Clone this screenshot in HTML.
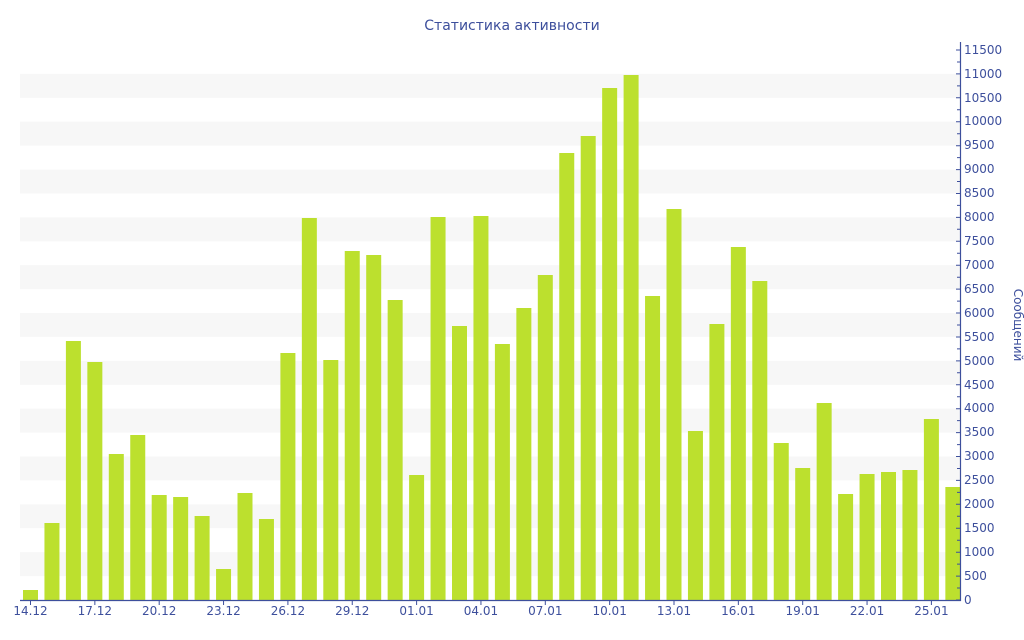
<!DOCTYPE html>
<html><head><meta charset="utf-8"><style>
html,body{margin:0;padding:0;background:#fff;}
svg{display:block;font-family:"DejaVu Sans",Verdana,sans-serif;}
</style></head><body>
<svg width="1024" height="640" viewBox="0 0 1024 640" xmlns="http://www.w3.org/2000/svg">
<rect width="1024" height="640" fill="#fff"/>
<g fill="#f7f7f7">
<rect x="20" y="552.2" width="940" height="23.9"/>
<rect x="20" y="504.3" width="940" height="23.9"/>
<rect x="20" y="456.5" width="940" height="23.9"/>
<rect x="20" y="408.7" width="940" height="23.9"/>
<rect x="20" y="360.9" width="940" height="23.9"/>
<rect x="20" y="313.0" width="940" height="23.9"/>
<rect x="20" y="265.2" width="940" height="23.9"/>
<rect x="20" y="217.4" width="940" height="23.9"/>
<rect x="20" y="169.6" width="940" height="23.9"/>
<rect x="20" y="121.7" width="940" height="23.9"/>
<rect x="20" y="73.9" width="940" height="23.9"/>
</g>
<g fill="#bce02e">
<rect x="23" y="590" width="15" height="10"/>
<rect x="44.45" y="523" width="15" height="77"/>
<rect x="65.9" y="341" width="15" height="259"/>
<rect x="87.35" y="362" width="15" height="238"/>
<rect x="108.8" y="454" width="15" height="146"/>
<rect x="130.25" y="435" width="15" height="165"/>
<rect x="151.7" y="495" width="15" height="105"/>
<rect x="173.15" y="497" width="15" height="103"/>
<rect x="194.6" y="516" width="15" height="84"/>
<rect x="216.05" y="569" width="15" height="31"/>
<rect x="237.5" y="493" width="15" height="107"/>
<rect x="258.95" y="519" width="15" height="81"/>
<rect x="280.4" y="353" width="15" height="247"/>
<rect x="301.85" y="218" width="15" height="382"/>
<rect x="323.3" y="360" width="15" height="240"/>
<rect x="344.75" y="251" width="15" height="349"/>
<rect x="366.2" y="255" width="15" height="345"/>
<rect x="387.65" y="300" width="15" height="300"/>
<rect x="409.1" y="475" width="15" height="125"/>
<rect x="430.55" y="217" width="15" height="383"/>
<rect x="452" y="326" width="15" height="274"/>
<rect x="473.45" y="216" width="15" height="384"/>
<rect x="494.9" y="344" width="15" height="256"/>
<rect x="516.35" y="308" width="15" height="292"/>
<rect x="537.8" y="275" width="15" height="325"/>
<rect x="559.25" y="153" width="15" height="447"/>
<rect x="580.7" y="136" width="15" height="464"/>
<rect x="602.15" y="88" width="15" height="512"/>
<rect x="623.6" y="75" width="15" height="525"/>
<rect x="645.05" y="296" width="15" height="304"/>
<rect x="666.5" y="209" width="15" height="391"/>
<rect x="687.95" y="431" width="15" height="169"/>
<rect x="709.4" y="324" width="15" height="276"/>
<rect x="730.85" y="247" width="15" height="353"/>
<rect x="752.3" y="281" width="15" height="319"/>
<rect x="773.75" y="443" width="15" height="157"/>
<rect x="795.2" y="468" width="15" height="132"/>
<rect x="816.65" y="403" width="15" height="197"/>
<rect x="838.1" y="494" width="15" height="106"/>
<rect x="859.55" y="474" width="15" height="126"/>
<rect x="881" y="472" width="15" height="128"/>
<rect x="902.45" y="470" width="15" height="130"/>
<rect x="923.9" y="419" width="15" height="181"/>
<rect x="945.35" y="487" width="15" height="113"/>
</g>
<g stroke="#3d4f9c" stroke-width="1.2">
<line x1="20" y1="600.5" x2="961" y2="600.5"/>
<line x1="960.5" y1="42" x2="960.5" y2="601"/>
</g>
<g stroke="#3d4f9c" stroke-width="1">
<path d="M30.5 600v5M94.85 600v5M159.2 600v5M223.55 600v5M287.9 600v5M352.25 600v5M416.6 600v5M480.95 600v5M545.3 600v5M609.65 600v5M674 600v5M738.35 600v5M802.7 600v5M867.05 600v5M931.4 600v5"/>
<path d="M956 600h5M956 576.1h5M956 552.2h5M956 528.3h5M956 504.3h5M956 480.4h5M956 456.5h5M956 432.6h5M956 408.7h5M956 384.8h5M956 360.9h5M956 337h5M956 313h5M956 289.1h5M956 265.2h5M956 241.3h5M956 217.4h5M956 193.5h5M956 169.6h5M956 145.7h5M956 121.7h5M956 97.8h5M956 73.9h5M956 50h5"/>
<path d="M957 588h3M957 564.1h3M957 540.2h3M957 516.3h3M957 492.4h3M957 468.5h3M957 444.6h3M957 420.6h3M957 396.7h3M957 372.8h3M957 348.9h3M957 325h3M957 301.1h3M957 277.2h3M957 253.3h3M957 229.3h3M957 205.4h3M957 181.5h3M957 157.6h3M957 133.7h3M957 109.8h3M957 85.9h3M957 62h3"/>
</g>
<g fill="#3d4f9c" font-size="12">
<text x="512" y="30" text-anchor="middle" font-size="14">Статистика активности</text>
<text x="964" y="604">0</text><text x="964" y="580">500</text><text x="964" y="556">1000</text><text x="964" y="532">1500</text><text x="964" y="508">2000</text><text x="964" y="484">2500</text><text x="964" y="460">3000</text><text x="964" y="436">3500</text><text x="964" y="412">4000</text><text x="964" y="389">4500</text><text x="964" y="365">5000</text><text x="964" y="341">5500</text><text x="964" y="317">6000</text><text x="964" y="293">6500</text><text x="964" y="269">7000</text><text x="964" y="245">7500</text><text x="964" y="221">8000</text><text x="964" y="197">8500</text><text x="964" y="173">9000</text><text x="964" y="149">9500</text><text x="964" y="125">10000</text><text x="964" y="102">10500</text><text x="964" y="78">11000</text><text x="964" y="54">11500</text>
<g text-anchor="middle">
<text x="30.5" y="615">14.12</text><text x="94.85" y="615">17.12</text><text x="159.2" y="615">20.12</text><text x="223.55" y="615">23.12</text><text x="287.9" y="615">26.12</text><text x="352.25" y="615">29.12</text><text x="416.6" y="615">01.01</text><text x="480.95" y="615">04.01</text><text x="545.3" y="615">07.01</text><text x="609.65" y="615">10.01</text><text x="674" y="615">13.01</text><text x="738.35" y="615">16.01</text><text x="802.7" y="615">19.01</text><text x="867.05" y="615">22.01</text><text x="931.4" y="615">25.01</text>
</g>
<text x="0" y="0" text-anchor="middle" font-size="12" transform="translate(1014,325) rotate(90)">Сообщений</text>
</g>
</svg>
</body></html>
